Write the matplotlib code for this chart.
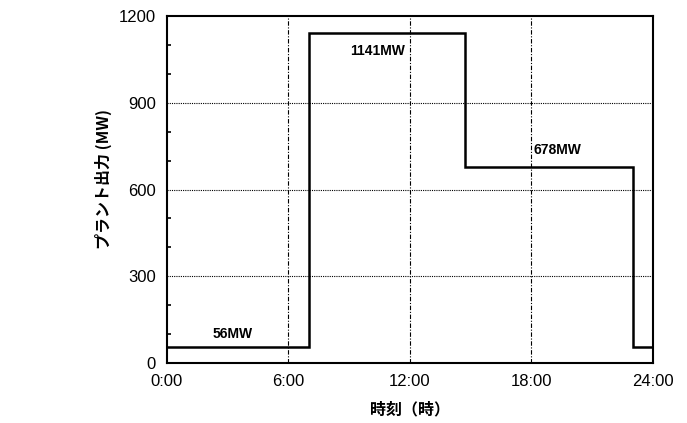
import matplotlib
matplotlib.use("Agg")
from matplotlib import pyplot as plt
from matplotlib.ticker import MultipleLocator

# データ（時刻[時]と出力[MW]）
hours = [0, 7, 14.7, 23, 24]
output_mw = [56, 1141, 678, 56]
labels = ["56MW", "1141MW", "678MW"]
label_pos = [(3.25, 101), (10.4, 1078), (19.3, 736)]
xticks = [0, 6, 12, 18, 24]
xticklabels = ["0:00", "6:00", "12:00", "18:00", "24:00"]
yticks = [0, 300, 600, 900, 1200]

plt.rcParams['font.family'] = ['Noto Sans CJK JP', 'DejaVu Sans']
num_font = "Liberation Sans"

fig = plt.figure(figsize=(6.87, 4.23), dpi=100)
ax = fig.add_axes([0.243, 0.142, 0.7075, 0.820])

# ステップ状の出力
ax.stairs(output_mw, hours, color="black", linewidth=1.8, baseline=None)

# 注記
for txt, (x, y) in zip(labels, label_pos):
    ax.text(x, y, txt, ha="center", va="center", fontsize=10,
            family=num_font, fontweight="bold")

# グリッド
for y in [300, 600, 900]:
    ax.axhline(y, color="black", linewidth=0.8, linestyle=(0, (1, 1)), zorder=0)
for x in [6, 12, 18]:
    ax.axvline(x, color="black", linewidth=0.8, linestyle=(0, (4, 1.5, 1, 1.5)), zorder=0)

ax.set_xlim(0, 24)
ax.set_ylim(0, 1200)
ax.set_xticks(xticks)
ax.set_xticklabels(xticklabels, family=num_font, fontsize=12)
ax.set_yticks(yticks)
ax.set_yticklabels([str(v) for v in yticks], family=num_font, fontsize=12)
ax.yaxis.set_minor_locator(MultipleLocator(100))
ax.tick_params(axis="both", which="major", length=0, pad=8)
ax.tick_params(axis="y", which="minor", direction="in", length=3, width=1.2)
ax.tick_params(axis="x", which="minor", length=0)

for s in ax.spines.values():
    s.set_linewidth(1.5)

ax.set_ylabel("プラント出力 (MW)", fontsize=11.5, fontweight="bold")
ax.yaxis.set_label_coords(-0.113, 0.53)
ax.set_xlabel("時刻（時）", fontsize=11.5, fontweight="bold", labelpad=9)

fig.savefig("out.png", dpi=100)
